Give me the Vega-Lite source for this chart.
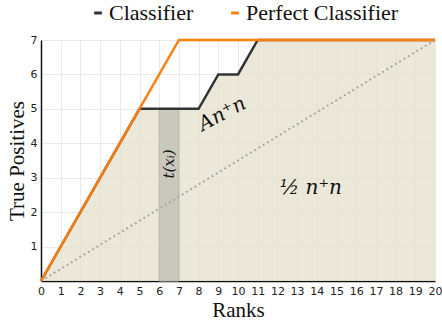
{
  "$schema": "https://vega.github.io/schema/vega-lite/v6.json",
  "autosize": {"type": "none"},
  "width": 394,
  "height": 241,
  "padding": {"left": 41, "top": 40, "right": 7, "bottom": 43},
  "background": "white",
  "config": {
    "view": {"stroke": null},
    "axis": {"grid": true, "gridColor": "#e9e9e9", "gridWidth": 1, "ticks": false, "domainColor": "#111", "domainWidth": 1.5,
             "labelFont": "DejaVu Sans", "labelFontSize": 11, "labelColor": "#222", "labelOverlap": false,
             "titleFont": "Liberation Serif", "titleFontSize": 21, "titleFontWeight": "normal", "titleColor": "#111"}
  },
  "datasets": {
    "curves": [
      {"x": 0, "y": 0, "series": "Classifier"},
      {"x": 5, "y": 5, "series": "Classifier"},
      {"x": 8, "y": 5, "series": "Classifier"},
      {"x": 9, "y": 6, "series": "Classifier"},
      {"x": 10, "y": 6, "series": "Classifier"},
      {"x": 11, "y": 7, "series": "Classifier"},
      {"x": 20, "y": 7, "series": "Classifier"},
      {"x": 0, "y": 0, "series": "Perfect Classifier"},
      {"x": 7, "y": 7, "series": "Perfect Classifier"},
      {"x": 20, "y": 7, "series": "Perfect Classifier"}
    ]
  },
  "encoding": {
    "x": {"field": "x", "type": "quantitative", "scale": {"domain": [0, 20], "nice": false},
          "axis": {"values": [0,1,2,3,4,5,6,7,8,9,10,11,12,13,14,15,16,17,18,19,20], "labelOverlap": false, "labelBound": false, "title": "Ranks", "labelPadding": 4, "titlePadding": 3, "labelFlush": false}},
    "y": {"field": "y", "type": "quantitative", "scale": {"domain": [0, 7], "nice": false},
          "axis": {"values": [0,1,2,3,4,5,6,7], "labelOverlap": false, "title": "True Positives", "labelPadding": 4, "titlePadding": 3, "labelExpr": "datum.value === 0 ? '' : datum.label"}}
  },
  "layer": [
    {
      "data": {"name": "curves"},
      "transform": [{"filter": "datum.series === 'Classifier'"}],
      "mark": {"type": "area", "color": "#e4e0cc", "opacity": 0.75}
    },
    {
      "data": {"values": [{"x": 6, "x2": 7, "y": 0, "y2": 5}]},
      "mark": {"type": "rect", "color": "#c9c8bd", "stroke": "#b5b4aa", "strokeWidth": 1},
      "encoding": {
        "x2": {"field": "x2"},
        "y2": {"field": "y2"}
      }
    },
    {
      "data": {"values": [{"x": 0, "y": 0, "x2": 20, "y2": 7}]},
      "mark": {"type": "rule", "color": "#a8a8a8", "strokeWidth": 2, "strokeDash": [2, 3]},
      "encoding": {
        "x2": {"field": "x2"},
        "y2": {"field": "y2"}
      }
    },
    {
      "data": {"name": "curves"},
      "mark": {"type": "line", "strokeWidth": 2.5},
      "encoding": {
        "color": {"field": "series", "type": "nominal",
                  "scale": {"domain": ["Classifier", "Perfect Classifier"], "range": ["#333333", "#ff7f0e"]},
                  "legend": {"title": null, "orient": "none", "legendX": 46, "legendY": -38, "direction": "horizontal",
                             "symbolType": "stroke", "symbolStrokeWidth": 3, "symbolSize": 60, "labelFont": "Liberation Serif",
                             "labelFontSize": 22, "labelColor": "#111", "columnPadding": 30, "labelOffset": 0}}
      }
    },
    {
      "data": {"values": [{"x": 9.2, "y": 4.85, "label": "An⁺n"}]},
      "mark": {"type": "text", "font": "DejaVu Serif", "fontStyle": "italic", "fontSize": 20, "angle": 332, "color": "#111"},
      "encoding": {"text": {"field": "label"}}
    },
    {
      "data": {"values": [{"x": 6.5, "y": 3.4, "label": "t(xᵢ)"}]},
      "mark": {"type": "text", "font": "DejaVu Serif", "fontStyle": "italic", "fontSize": 15, "angle": 270, "color": "#111"},
      "encoding": {"text": {"field": "label"}}
    },
    {
      "data": {"values": [{"x": 13.7, "y": 2.7, "label": "½ n⁺n"}]},
      "mark": {"type": "text", "font": "DejaVu Serif", "fontStyle": "italic", "fontSize": 20, "color": "#111"},
      "encoding": {"text": {"field": "label"}}
    }
  ]
}
